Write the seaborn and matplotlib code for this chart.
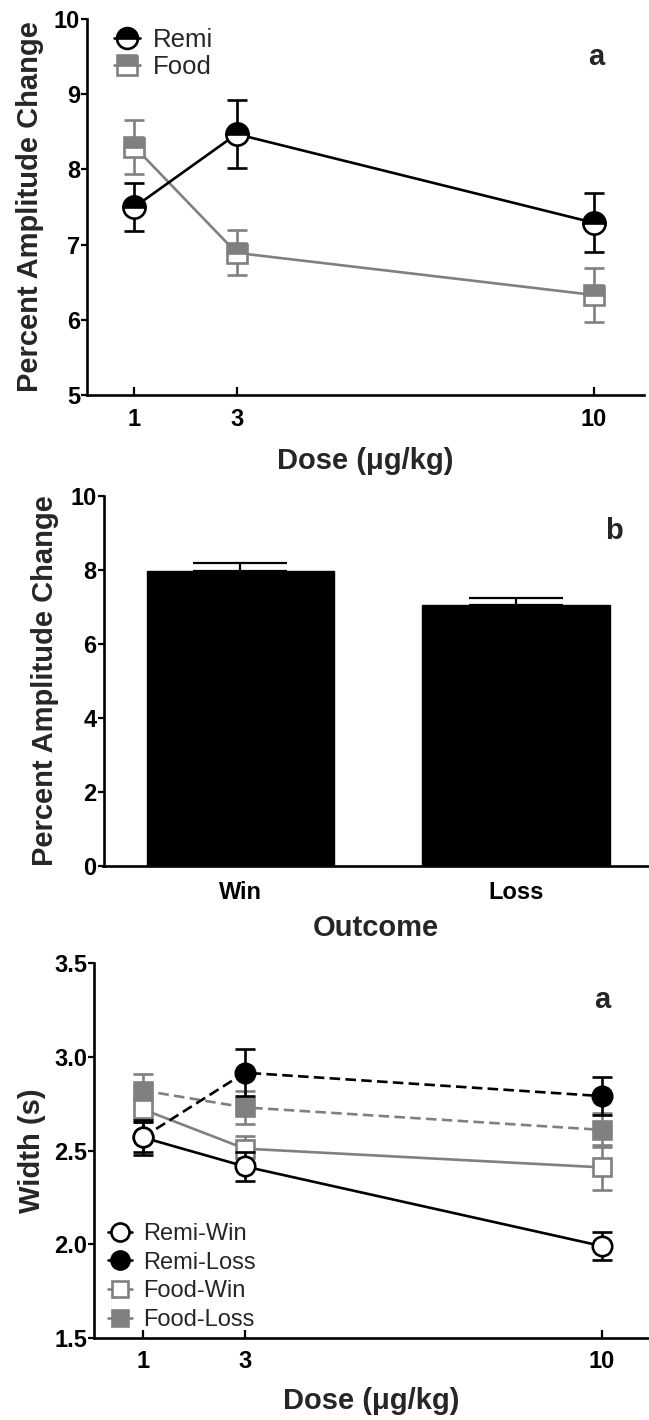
import matplotlib
matplotlib.use("Agg")
import matplotlib.pyplot as plt
import seaborn as sns
import numpy as np
from matplotlib.lines import Line2D

# ---------------- data ----------------
dose = [1, 3, 10]
amp_remi = [7.50, 8.47, 7.29]
amp_remi_err = [0.32, 0.45, 0.39]
amp_food = [8.30, 6.89, 6.33]
amp_food_err = [0.36, 0.30, 0.36]

outcomes = ["Win", "Loss"]
outcome_amp = [7.97, 7.05]
outcome_err = [0.21, 0.19]

width_remi_win = [2.57, 2.415, 1.99]
width_remi_win_err = [0.095, 0.075, 0.075]
width_remi_loss = [2.57, 2.915, 2.79]
width_remi_loss_err = [0.08, 0.125, 0.10]
width_food_win = [2.72, 2.51, 2.41]
width_food_win_err = [0.07, 0.07, 0.12]
width_food_loss = [2.82, 2.73, 2.61]
width_food_loss_err = [0.09, 0.09, 0.09]

# ---------------- style ----------------
sns.set_style("ticks")
plt.rcParams["font.family"] = ["Liberation Sans", "DejaVu Sans"]
GRAY = "#808080"
BLACK = "black"
TICK_FS = 17

W, H = 649, 1420
fig = plt.figure(figsize=(W / 100, H / 100), dpi=100)


def ax_px(left, right, top, bottom):
    return fig.add_axes([left / W, 1 - bottom / H, (right - left) / W, (bottom - top) / H])


def style_axes(ax, xticks_in=True):
    for s in ["top", "right"]:
        ax.spines[s].set_visible(False)
    for s in ["left", "bottom"]:
        ax.spines[s].set_linewidth(1.9)
        ax.spines[s].set_color("black")
    ax.tick_params(axis="y", direction="out", length=4, width=1.6, pad=1,
                   labelsize=TICK_FS, colors="black")
    if xticks_in:
        ax.tick_params(axis="x", direction="in", length=6, width=1.6, pad=9,
                       labelsize=TICK_FS, colors="black")
    else:
        ax.tick_params(axis="x", length=0, pad=11, labelsize=TICK_FS, colors="black")
    for lab in ax.get_xticklabels() + ax.get_yticklabels():
        lab.set_fontweight("bold")


def series(ax, y, err, color, marker, ms, ls, fill, alt, z):
    ax.errorbar(dose, y, yerr=err, fmt="none", ecolor=color, elinewidth=1.9,
                capsize=7.5, capthick=1.9, zorder=z)
    sns.lineplot(x=dose, y=y, ax=ax, color=color, linewidth=1.9, linestyle=ls,
                 marker=marker, markersize=ms, markeredgecolor=color,
                 markeredgewidth=1.9, markerfacecolor=color if fill != "none" else "white",
                 fillstyle=fill if fill != "none" else "full",
                 markerfacecoloralt=alt, zorder=z + 0.5, errorbar=None)


# ---------------- panel 1 ----------------
ax1 = ax_px(87, 644, 19, 395)
series(ax1, amp_food, amp_food_err, GRAY, "s", 15, "-", "top", "white", 2)
series(ax1, amp_remi, amp_remi_err, BLACK, "o", 16, "-", "top", "white", 3)
ax1.set_xlim(0.07, 10.98)
ax1.set_ylim(5, 10)
ax1.set_xticks(dose)
ax1.set_xticklabels([str(d) for d in dose])
ax1.set_yticks([5, 6, 7, 8, 9, 10])
ax1.set_xlabel("Dose (\u03bcg/kg)", fontsize=21, fontweight="bold", labelpad=12)
ax1.set_ylabel("Percent Amplitude Change", fontsize=21, fontweight="bold", labelpad=7)
style_axes(ax1)
ax1.text(0.915, 0.90, "a", transform=ax1.transAxes, fontsize=21, fontweight="bold",
         ha="center", va="center")
h1 = [Line2D([], [], color=BLACK, marker="o", markersize=15, fillstyle="top",
             markerfacecoloralt="white", markeredgewidth=1.9, linewidth=1.9),
      Line2D([], [], color=GRAY, marker="s", markersize=14, fillstyle="top",
             markerfacecoloralt="white", markeredgewidth=1.9, linewidth=1.9)]
ax1.legend(h1, ["Remi", "Food"], loc="upper left", bbox_to_anchor=(114 / W, 1 - 28 / H),
           bbox_transform=fig.transFigure, frameon=False, fontsize=18.5,
           handlelength=1.0, handletextpad=0.5, labelspacing=0.12, borderpad=0,
           borderaxespad=0)

# ---------------- panel 2 ----------------
ax2 = ax_px(103.5, 649, 496, 866)
sns.barplot(x=outcomes, y=outcome_amp, ax=ax2, color=BLACK, width=0.68,
            errorbar=None, saturation=1, edgecolor=BLACK)
ax2.errorbar([0, 1], outcome_amp, yerr=[[0, 0], outcome_err], fmt="none",
             ecolor=BLACK, elinewidth=1.6, capsize=34, capthick=1.6, zorder=1)
ax2.set_xlim(-0.497, 1.483)
ax2.set_ylim(0, 10)
ax2.set_yticks([0, 2, 4, 6, 8, 10])
ax2.set_xlabel("Outcome", fontsize=21, fontweight="bold", labelpad=7)
ax2.set_ylabel("Percent Amplitude Change", fontsize=21, fontweight="bold", labelpad=8)
style_axes(ax2, xticks_in=False)
ax2.text(0.935, 0.905, "b", transform=ax2.transAxes, fontsize=21, fontweight="bold",
         ha="center", va="center")

# ---------------- panel 3 ----------------
ax3 = ax_px(94, 649, 963, 1338)
series(ax3, width_food_loss, width_food_loss_err, GRAY, "s", 13, (0, (4, 2)), "full", GRAY, 2)
series(ax3, width_food_win, width_food_win_err, GRAY, "s", 13, "-", "none", "white", 2.2)
series(ax3, width_remi_loss, width_remi_loss_err, BLACK, "o", 14, (0, (4, 2)), "full", BLACK, 3)
series(ax3, width_remi_win, width_remi_win_err, BLACK, "o", 14, "-", "none", "white", 3.5)
ax3.set_xlim(0.045, 10.92)
ax3.set_ylim(1.5, 3.5)
ax3.set_xticks(dose)
ax3.set_xticklabels([str(d) for d in dose])
ax3.set_yticks([1.5, 2.0, 2.5, 3.0, 3.5])
ax3.set_yticklabels(["1.5", "2.0", "2.5", "3.0", "3.5"])
ax3.set_xlabel("Dose (\u03bcg/kg)", fontsize=21, fontweight="bold", labelpad=10)
ax3.set_ylabel("Width (s)", fontsize=21, fontweight="bold", labelpad=6)
style_axes(ax3)
ax3.text(0.915, 0.90, "a", transform=ax3.transAxes, fontsize=21, fontweight="bold",
         ha="center", va="center")
h3 = [Line2D([], [], color=BLACK, marker="o", markersize=13, markerfacecolor="white",
             markeredgewidth=1.9, linewidth=1.9),
      Line2D([], [], color=BLACK, marker="o", markersize=13, markerfacecolor=BLACK,
             markeredgewidth=1.9, linewidth=1.9),
      Line2D([], [], color=GRAY, marker="s", markersize=12, markerfacecolor="white",
             markeredgewidth=1.9, linewidth=1.9),
      Line2D([], [], color=GRAY, marker="s", markersize=12, markerfacecolor=GRAY,
             markeredgewidth=1.9, linewidth=1.9)]
ax3.legend(h3, ["Remi-Win", "Remi-Loss", "Food-Win", "Food-Loss"], loc="upper left",
           bbox_to_anchor=(108 / W, 1 - 1223 / H), bbox_transform=fig.transFigure,
           frameon=False, fontsize=17, handlelength=1.0, handletextpad=0.5,
           labelspacing=0.28, borderpad=0, borderaxespad=0)

fig.savefig("out.png", dpi=100)
